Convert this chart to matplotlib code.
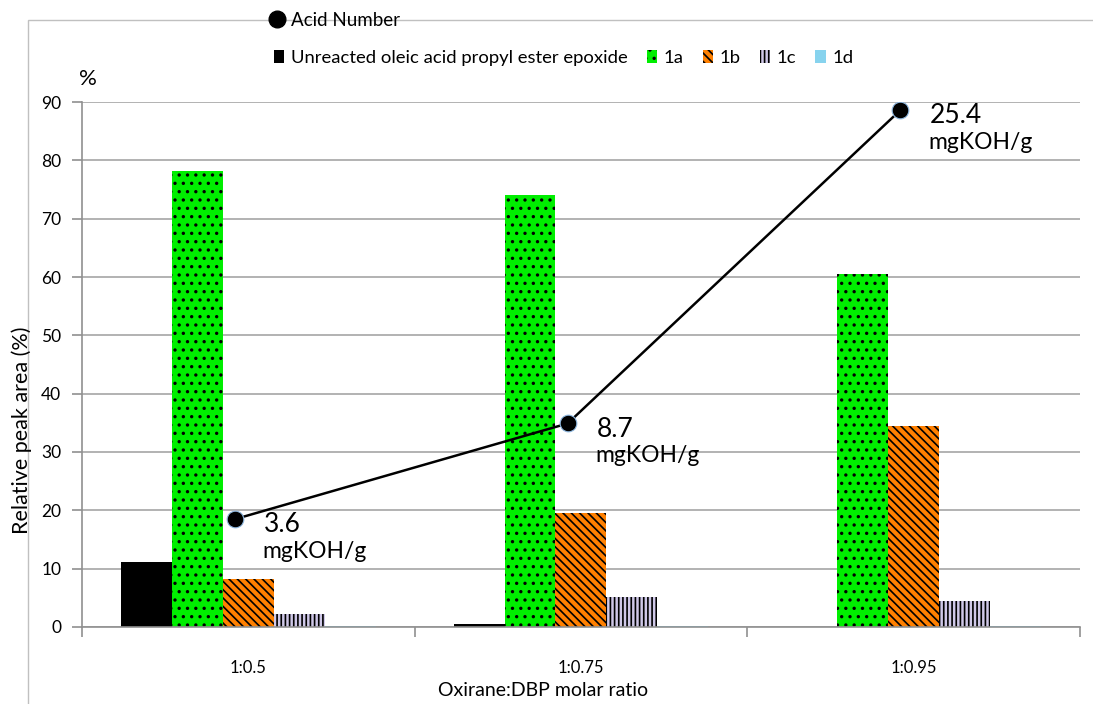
import numpy as np
import matplotlib
matplotlib.use('Agg')
import matplotlib.pyplot as plt
from matplotlib.lines import Line2D
from matplotlib.patches import Patch, Rectangle

plt.rcParams['font.family'] = ['Lato', 'DejaVu Sans']
plt.rcParams['hatch.color'] = 'black'
plt.rcParams['hatch.linewidth'] = 1.2

ratios = ['1:0.5', '1:0.75', '1:0.95']
series = ['Unreacted oleic acid propyl ester epoxide', '1a', '1b', '1c', '1d']
unreacted = [11.2, 0.5, 0.0]
v1a = [78.2, 74.1, 60.5]
v1b = [8.2, 19.6, 34.5]
v1c = [2.3, 5.1, 4.5]
v1d = [0.2, 0.2, 0.2]
acid_x = [-0.04, 0.96, 1.96]
acid = [3.6, 8.7, 25.4]
acid_labels = ['3.6', '8.7', '25.4']

colors = ['#000000', '#00ee00', '#ff8000', '#cfc8e8', '#87d3ee']
hatches = [None, '..', '\\\\\\\\', '||||', None]

fig = plt.figure(figsize=(10.93, 7.04), dpi=100)
ax = fig.add_axes([0.075, 0.1094, 0.913, 0.7457])

x = np.arange(len(ratios))
w = 0.153
for i, vals in enumerate([unreacted, v1a, v1b, v1c, v1d]):
    ax.bar(x + (i - 2) * w, vals, w, color=colors[i], hatch=hatches[i],
           edgecolor='black', linewidth=0, zorder=2)

ax.set_xlim(-0.5, 2.5)
ax.set_ylim(0, 90)
ax.set_yticks(range(0, 91, 10))
ax.yaxis.grid(True, color='#a6a6a6', linewidth=1.2, zorder=0)
ax.set_axisbelow(True)
ax.set_xticks(x)
ax.set_xticklabels(ratios, fontsize=12)
ax.set_xticks([-0.5, 0.5, 1.5, 2.5], minor=True)
ax.tick_params(axis='x', which='major', length=0, pad=24)
ax.tick_params(axis='x', which='minor', length=7, color='#909090', width=1.2)
ax.tick_params(axis='y', length=7, color='#909090', width=1.2, labelsize=12.5, pad=8)
for s in ['top', 'right']:
    ax.spines[s].set_visible(False)
for s in ['left', 'bottom']:
    ax.spines[s].set_color('#909090')
    ax.spines[s].set_linewidth(1.2)
fig.text(543 / 1093, 1 - 690 / 704, 'Oxirane:DBP molar ratio', fontsize=14,
         ha='center', va='center')
fig.text(22 / 1093, 1 - 430 / 704, 'Relative peak area (%)', rotation=90,
         fontsize=15.5, ha='center', va='center')
ax.text(0.006, 1.043, '%', transform=ax.transAxes, fontsize=16, ha='center', va='center')

ax2 = ax.twinx()
ax2.set_ylim(-2.15, 25.84)
ax2.axis('off')
ax2.plot(acid_x, acid, color='black', linewidth=1.8, marker='o', markersize=12,
         markerfacecolor='black', markeredgecolor='#8fb8e0', markeredgewidth=0.8,
         zorder=5)
for xi, yi, lab in zip(acid_x, acid, acid_labels):
    ax2.annotate(lab, (xi, yi), xytext=(21, -4), textcoords='offset points',
                 fontsize=19, va='center', ha='left')
    ax2.annotate('mgKOH/g', (xi, yi), xytext=(20, -23), textcoords='offset points',
                 fontsize=16.5, va='center', ha='left')

# chart frame (cropped)
fig.patches.append(Rectangle((28 / 1093, -0.1), 1.2, 1 - 20 / 704 + 0.1,
                             transform=fig.transFigure, fill=False,
                             edgecolor='#c0c0c0', linewidth=1))

h1 = [Line2D([], [], color='black', marker='o', linestyle='none', markersize=12)]
leg1 = fig.legend(h1, ['Acid Number'], loc='center left',
                  bbox_to_anchor=(268 / 1093, 1 - 20 / 704), frameon=False,
                  fontsize=13.5, handlelength=1.0, handletextpad=0.25, borderpad=0,
                  borderaxespad=0)

h2 = [Patch(facecolor=colors[i], hatch=hatches[i], edgecolor='black', linewidth=0)
      for i in range(5)]
leg2 = fig.legend(h2, series, loc='center left', ncol=5,
                  bbox_to_anchor=(274 / 1093, 1 - 58 / 704), frameon=False,
                  fontsize=13.3, handlelength=0.55, handleheight=0.7,
                  handletextpad=0.35, columnspacing=1.05, borderpad=0,
                  borderaxespad=0)

fig.savefig('out.png', dpi=100)
